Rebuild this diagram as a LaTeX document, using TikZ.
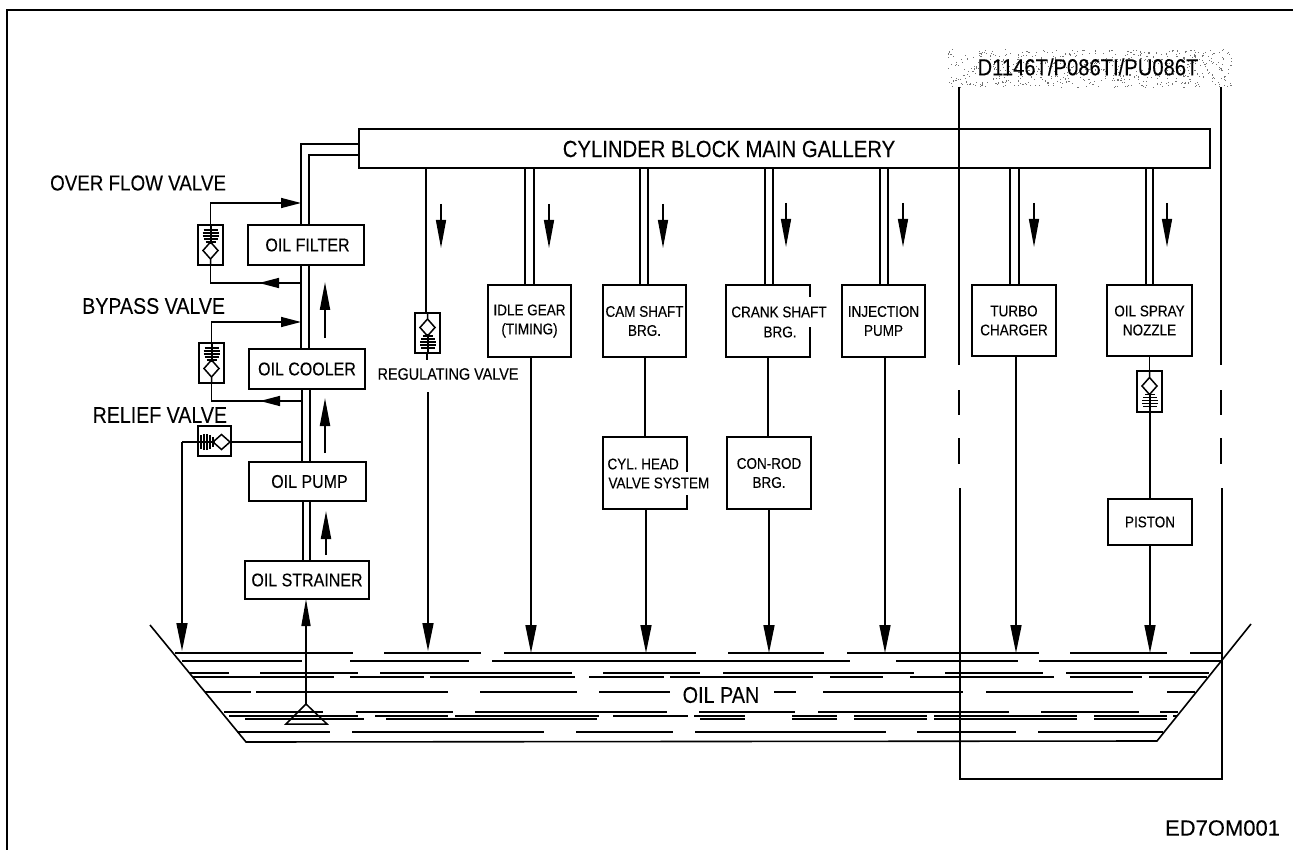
\documentclass[tikz,border=0pt]{standalone}
\usepackage{graphicx}
\usepackage{fontspec}
\setmainfont{Liberation Sans}[FakeBold=0.12]
\usetikzlibrary{arrows.meta}
\newcommand\sq[1]{\scalebox{1}[1.15]{#1}}
\newcommand\fsz[2]{\fontsize{#1}{#2}\selectfont}
\tikzset{
  x=1pt,y=-1pt,
  boxn/.style={draw=black,line width=1.5pt,fill=white,inner sep=0pt,outer sep=0pt,align=center,font=\fsz{13.5}{19}},
  midn/.style={boxn,font=\fsz{16}{19}},
  txt/.style={inner sep=0pt,outer sep=0pt,align=center},
  pipe/.style={line width=2pt},
  pipei/.style={line width=1.5pt},
  flow/.style={line width=1.5pt,-{Triangle[length=28pt,width=10pt]}},
  flowup/.style={line width=2pt,-{Triangle[length=28pt,width=10pt]}},
  drain/.style={line width=1.6pt,-{Triangle[length=28pt,width=11pt]}},
  side/.style={line width=1.5pt,-{Triangle[length=20pt,width=10pt]}},
  sideb/.style={line width=1.5pt},
  vbox/.style={draw=black,line width=1.5pt,fill=white,inner sep=0pt,outer sep=0pt},
  oil/.style={line width=1.3pt},
  valve/.pic={
    \draw[line width=1.5pt] (-7.5,5.5) -- (0,-3) -- (7.5,5.5) -- (0,14) -- cycle (0,14) -- (0,20);
    \draw[line width=2pt] (0,-20) -- (0,-1);
    \draw[line width=1.8pt] (-7,-15) -- (7,-15) (-8,-12) -- (8,-12) (-8,-9) -- (8,-9) (-7,-6) -- (7,-6) (-5,-3) -- (5,-3);
  }
}
\newcommand\bx[7][boxn]{\node[#1,minimum width={#5-#3},minimum height={#6-#4}] (#2) at ({(#3+#5)/2},{(#4+#6)/2}) {#7};}
\newcommand\vb[5]{\node[vbox,minimum width={#4-#2},minimum height={#5-#3}] (#1) at ({(#2+#4)/2},{(#3+#5)/2}) {};}
\newcommand\fl[2]{\draw[flow] (#1,#2) -- (#1,#2+44);}
\begin{document}
\begin{tikzpicture}
\useasboundingbox (0,0) rectangle (1293,850);
% frame
\draw[line width=2pt] (6.5,850) -- (6.5,10) -- (1293,10);
% stippled label
\pgfmathsetseed{17}
\foreach \i in {1,...,620}{\fill[black!55] ({948+283*rnd},{49+38*rnd}) rectangle +(1.1,1.1);}
\node[txt,font=\fsz{20.2}{24}] (variant) at (1088,67) {\sq{D1146T/P086TI/PU086T}};
% main gallery
\bx[boxn,font=\fsz{20.3}{24}]{gallery}{359}{129}{1210}{168}{\phantom{.}}
\node[txt,font=\fsz{20.3}{24}] (gallerytext) at (729,149) {\sq{CYLINDER BLOCK MAIN GALLERY}};
% left column boxes
\bx[midn]{filter}{248}{225}{364}{265}{\hspace*{3pt}\sq{OIL FILTER}}
\bx[midn]{cooler}{249}{349}{365}{389}{\sq{OIL COOLER}}
\bx[midn]{pump}{249}{462}{366}{501}{\hspace*{4pt}\sq{OIL PUMP}}
\bx[midn]{strainer}{245}{561}{369}{599}{\sq{OIL STRAINER}}
% consumers
\bx{idle}{488}{285}{571}{357}{\sq{IDLE GEAR}\\\sq{(TIMING)}}
\bx{cam}{603}{285}{686}{357}{\sq{CAM SHAFT}\\\sq{BRG.}}
\bx{crank}{726}{285}{810}{357}{}
\node[txt,fill=white,inner xsep=1pt,minimum height=30pt,font=\fsz{13.5}{19}] (cranktextA) at (779,312) {\sq{CRANK SHAFT}};
\node[txt,font=\fsz{13.5}{19}] (cranktextB) at (780,332) {\sq{BRG.}};
\bx{inj}{842}{285}{925}{357}{\sq{INJECTION}\\\sq{PUMP}}
\bx{turbo}{972}{285}{1056}{356}{\sq{TURBO}\\\sq{CHARGER}}
\bx{spray}{1107}{285}{1192}{356}{\sq{OIL SPRAY}\\\sq{NOZZLE}}
\bx{cyl}{603}{437}{687}{509}{}
\node[txt,font=\fsz{13.5}{19},anchor=west] (cyltextA) at (607.5,464) {\sq{CYL. HEAD}};
\node[txt,fill=white,inner xsep=1pt,minimum height=23pt,font=\fsz{13.5}{19},anchor=west] (cyltextB) at (607.5,483) {\sq{VALVE SYSTEM}};
\bx{conrod}{727}{437}{811}{509}{\sq{CON-ROD}\\\sq{BRG.}}
\bx{piston}{1108}{499}{1192}{545}{\sq{PISTON}}
% valve boxes
\vb{ovf}{198}{225}{223}{265}
\vb{byp}{199}{343}{224}{383}
\vb{rel}{198}{426}{231}{456}
\vb{reg}{415}{313}{440}{353}
\vb{osn}{1137}{371}{1162}{412}
\pic at (ovf.center) {valve};
\pic at (byp.center) {valve};
\pic[rotate=90] at (216,442) {valve};
\pic[rotate=180] at (reg.center) {valve};
\pic[rotate=180] at (osn.center) {valve};
% named levels
\coordinate (surf) at (0,653);
\coordinate (tip) at (0,651);
\coordinate (pl) at (150,625);
\coordinate (pbl) at (246,742);
\coordinate (pbr) at (1157,741);
\coordinate (pr) at (1251,624);
\coordinate (filt) at (306,704);
% double pipes of the left column
\draw[pipe] (gallery.west |- 0,144) -- (301,144) -- (301,0 |- filter.north);
\draw[pipei] (gallery.west |- 0,155) -- (309,155) -- (309,0 |- filter.north);
\draw[pipe] (301,0 |- filter.south) -- (301,0 |- cooler.north);
\draw[pipei] (309,0 |- filter.south) -- (309,0 |- cooler.north);
\draw[pipe] (302,0 |- cooler.south) -- (302,0 |- pump.north);
\draw[pipei] (310,0 |- cooler.south) -- (310,0 |- pump.north);
\draw[pipe] (303,0 |- pump.south) -- (303,0 |- strainer.north);
\draw[pipe] (310,0 |- pump.south) -- (310,0 |- strainer.north);
% up arrows
\draw[flowup] (325,338) -- (325,282);
\draw[flowup] (325,453) -- (325,398);
\draw[flowup] (326,555) -- (326,511);
% strainer feed
\draw[line width=1.6pt,-{Triangle[length=27pt,width=9pt]}] (filt) -- (filt |- strainer.south);
\draw[line width=1.5pt,line join=miter] (filt) -- (286,724) -- (327,724) -- cycle;
% over flow valve lines
\draw[side] (ovf.north) -- (ovf.north |- 0,203) -- (301,203);
\draw[sideb] (ovf.south) -- (ovf.south |- 0,283) -- (301,283);
\draw[side] (301,283) -- (259,283);
% bypass valve lines
\draw[side] (byp.north) -- (byp.north |- 0,322) -- (301,322);
\draw[sideb] (byp.south) -- (byp.south |- 0,401) -- (302,401);
\draw[side] (302,401) -- (260,401);
% relief valve lines
\draw[sideb] (302,442) -- (rel.east |- 0,442);
\draw[sideb] (rel.west |- 0,442) -- (182,442);
\draw[drain] (182,442) -- (182,0 |- tip);
% regulating
\draw[sideb] (426,0 |- gallery.south) -- (426,0 |- reg.north);
\draw[sideb] (427,0 |- reg.south) -- (427,360);
\draw[drain] (428,392) -- (428,0 |- tip);
\node[txt,font=\fsz{14.4}{18}] (regtext) at (448,374) {\sq{REGULATING VALVE}};
% branch double pipes
\foreach \a/\b/\t in {525/534/idle,640/648/cam,765/773/crank,880/888/inj,1010/1019/turbo,1146/1153/spray}{
  \draw[pipe] (\a,0 |- gallery.south) -- (\a,0 |- \t.north);
  \draw[pipei] (\b,0 |- gallery.south) -- (\b,0 |- \t.north);
}
% flow arrows
\fl{441}{204}\fl{549}{204}\fl{663}{204}\fl{786}{203}\fl{903}{203}\fl{1034}{203}\fl{1167}{203}
% column lines down
\draw[drain] (531,0 |- idle.south) -- (531,0 |- surf);
\draw[sideb] (645,0 |- cam.south) -- (645,0 |- cyl.north);
\draw[drain] (646,0 |- cyl.south) -- (646,0 |- surf);
\draw[sideb] (768,0 |- crank.south) -- (768,0 |- conrod.north);
\draw[drain] (769,0 |- conrod.south) -- (769,0 |- surf);
\draw[drain] (885,0 |- inj.south) -- (885,0 |- surf);
\draw[drain] (1016,0 |- turbo.south) -- (1016,0 |- surf);
\draw[sideb] (1149.5,0 |- spray.south) -- (1149.5,0 |- osn.north);
\draw[sideb] (1150,0 |- osn.south) -- (1150,0 |- piston.north);
\draw[drain] (1150,0 |- piston.south) -- (1150,0 |- surf);
% pan
\draw[line width=1.6pt] (pl) -- (pbl) -- (pbr) -- (pr);
\foreach \y/\segs in {
 653/{175/353,384/481,504/696,728/824,847/1039,1070/1167,1190/1222},
 661/{182/302,350/469,492/850,896/1018,1039/1222},
 673/{189/229,260/358,380/572,603/700,723/914,945/1043,1066/1209},
 677/{193/334,350/424,430/575,589/664,670/813,830/883,910/1054,1070/1142,1149/1207},
 692/{205/251,256/448,480/577,599/670,774/796,823/963,986/1133,1167/1195},
 712/{224/323,356/453,475/667,699/795,818/1009,1041/1139,1160/1178},
 716/{229/358,375/448,455/599,613/688,694/745,792/837,854/927,934/1077,1094/1167,1173/1177},
 719/{245/364,386/597,700/745,792/837,854/927,934/1077,1094/1167},
 732/{237/330,352/544,576/673,695/886,917/1016,1038/1163}}{
  \foreach \p/\q in \segs {\draw[oil] (\p,\y) -- (\q,\y);}
}
\node[txt,font=\fsz{19.8}{24}] (pantext) at (721,695) {\sq{OIL PAN}};
% variant bracket
\draw[sideb] (959,87) -- (959,365) (959,390) -- (959,415) (959,438) -- (959,464);
\draw[sideb] (1221,87) -- (1221,365) (1221,390) -- (1221,415) (1221,438) -- (1221,464);
\draw[sideb] (960,488) -- (960,779) -- (1222,779) -- (1222,488);
% labels
\node[txt,font=\fsz{18.8}{24},anchor=east] (ovflabel) at (226,183) {\sq{OVER FLOW VALVE}};
\node[txt,font=\fsz{19.6}{24},anchor=east] (byplabel) at (225,306) {\sq{BYPASS VALVE}};
\node[txt,font=\fsz{19.6}{24},anchor=east] (rellabel) at (227,415) {\sq{RELIEF VALVE}};
\node[txt,font=\fsz{22}{24},anchor=east] (code) at (1280,828) {ED7OM001};
\end{tikzpicture}
\end{document}
